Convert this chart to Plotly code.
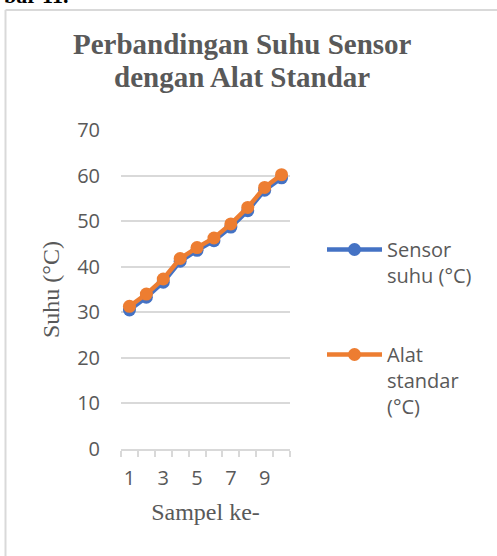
import plotly.graph_objects as go

samples = [1, 2, 3, 4, 5, 6, 7, 8, 9, 10]
sensor = [30.5, 33.3, 36.6, 41.2, 43.6, 45.7, 48.7, 52.3, 56.8, 59.5]
standar = [31.3, 34.0, 37.3, 41.8, 44.2, 46.3, 49.4, 53.0, 57.4, 60.2]
y_ticks = [0, 10, 20, 30, 40, 50, 60, 70]
x_tick_labels = [1, 3, 5, 7, 9]

W, H = 497, 556
L, R, T, B = 121, 290, 130, 449  # plot area in pixels

def px(x):
    return (x - L) / (R - L)

def py(y):
    return (B - y) / (B - T)

BLUE = "#4472C4"
ORANGE = "#ED7D31"
GREY = "#595959"
LINE = "#D9D9D9"

fig = go.Figure()
fig.add_trace(go.Scatter(
    x=samples, y=sensor, mode="lines+markers", name="Sensor<br>suhu (°C)",
    line=dict(color=BLUE, width=4.5), marker=dict(color=BLUE, size=13),
    legendgroup="a"))
fig.add_trace(go.Scatter(
    x=samples, y=standar, mode="lines+markers", name="Alat<br>standar<br>(°C)",
    line=dict(color=ORANGE, width=4.5), marker=dict(color=ORANGE, size=13),
    legendgroup="b"))

fig.update_layout(
    width=W, height=H,
    margin=dict(l=L, r=W - R, t=T, b=H - B, pad=0, autoexpand=False),
    paper_bgcolor="white", plot_bgcolor="white",
    font=dict(family="Open Sans", color=GREY, size=20),
    showlegend=True,
    legend=dict(x=px(322), xanchor="left", y=py(230), yanchor="top",
                valign="top", itemwidth=55, tracegroupgap=50,
                font=dict(family="Open Sans", size=20, color=GREY),
                bgcolor="rgba(0,0,0,0)"),
    xaxis=dict(range=[0.5, 10.5], tickmode="array", tickvals=x_tick_labels,
               ticktext=[str(v) for v in x_tick_labels], ticks="",
               automargin=False,
               showgrid=False, zeroline=False, showline=True, linecolor=LINE,
               linewidth=1.5, ticklabelstandoff=10,
               minor=dict(ticks="outside", tickmode="linear", tick0=0.5, dtick=1,
                          ticklen=6, tickcolor=LINE, tickwidth=1.5, showgrid=False),
               tickfont=dict(family="Open Sans", size=20, color=GREY),
               title=dict(text="Sampel ke-", standoff=13,
                          font=dict(family="Liberation Serif", size=24, color=GREY))),
    yaxis=dict(range=[0, 70], tickmode="array", tickvals=y_ticks, ticks="",
               automargin=False,
               showgrid=True, gridcolor=LINE, gridwidth=1.5, zeroline=False,
               showline=False, ticklabelstandoff=20,
               tickfont=dict(family="Open Sans", size=20, color=GREY),
               title=dict(text="Suhu (°C)", standoff=10,
                          font=dict(family="Liberation Serif", size=24, color=GREY))),
    annotations=[
        dict(text="<b>Perbandingan Suhu Sensor</b>", xref="paper", yref="paper",
             x=px(242), y=py(62), xanchor="center", yanchor="bottom", showarrow=False,
             font=dict(family="Liberation Serif", size=29, color=GREY)),
        dict(text="<b>dengan Alat Standar</b>", xref="paper", yref="paper",
             x=px(242), y=py(95), xanchor="center", yanchor="bottom", showarrow=False,
             font=dict(family="Liberation Serif", size=29, color=GREY)),
        dict(text="<b>bar 11.</b>", xref="paper", yref="paper",
             x=px(70), y=py(10), xanchor="right", yanchor="bottom", showarrow=False,
             font=dict(family="Liberation Serif", size=22, color="black")),
    ],
    shapes=[
        dict(type="line", xref="paper", yref="paper", x0=px(5.5), x1=px(5.5),
             y0=py(10), y1=py(H + 5), line=dict(color=LINE, width=2)),
        dict(type="line", xref="paper", yref="paper", x0=px(5.5), x1=px(W + 5),
             y0=py(10), y1=py(10), line=dict(color=LINE, width=2)),
    ],
)

fig.write_html("out.html", config={"displayModeBar": False},
               post_script="document.body.style.margin='0';document.body.style.overflow='hidden';")
